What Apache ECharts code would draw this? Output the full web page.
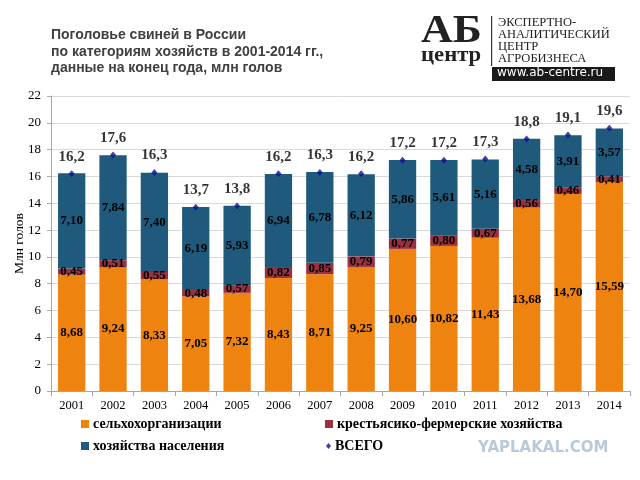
<!DOCTYPE html>
<html>
<head>
<meta charset="utf-8">
<script src="https://cdn.jsdelivr.net/npm/echarts@6/dist/echarts.min.js"></script>
<style>html,body{margin:0;padding:0;background:#fff;}#c{width:640px;height:480px;}</style>
</head>
<body>
<div id="c"></div>
<script>
var years = ['2001','2002','2003','2004','2005','2006','2007','2008','2009','2010','2011','2012','2013','2014'];
var agroOrgs = [8.68,9.24,8.33,7.05,7.32,8.43,8.71,9.25,10.60,10.82,11.43,13.68,14.70,15.59];
var farms = [0.45,0.51,0.55,0.48,0.57,0.82,0.85,0.79,0.77,0.80,0.67,0.56,0.46,0.41];
var households = [7.10,7.84,7.40,6.19,5.93,6.94,6.78,6.12,5.86,5.61,5.16,4.58,3.91,3.57];
var totals = [16.2,17.6,16.3,13.7,13.8,16.2,16.3,16.2,17.2,17.2,17.3,18.8,19.1,19.6];
var yTicks = {min:0, max:22, interval:2};
var names = ['сельхохорганизации','крестьясико-фермерские хозяйства','хозяйства населения','ВСЕГО'];

var serif = '"Liberation Serif","DejaVu Serif",serif';
var sans = '"Liberation Sans",Arial,sans-serif';
function fmt2(p){return p.value.toFixed(2).replace('.',',');}
function fmt1(p){var v = Array.isArray(p.value)?p.value[1]:p.value; return v.toFixed(1).replace('.',',');}
var inLabel = {show:true, position:'inside', formatter:fmt2, color:'#000', fontFamily:serif, fontWeight:'bold', fontSize:13};

var chart = echarts.init(document.getElementById('c'), null, {renderer:'canvas'});
function legendItem(name, left, top, icon, w, h){
  return {data:[{name:name, icon:icon}], left:left, top:top, itemWidth:w, itemHeight:h, itemGap:4,
    textStyle:{fontFamily:serif, fontWeight:'bold', fontSize:14, color:'#000', padding:[0,0,0,-1]}, selectedMode:false};
}
chart.setOption({
  animation:false,
  backgroundColor:'#fff',
  grid:{left:51, right:10, top:96, bottom:89, containLabel:false, outerBoundsMode:'none'},
  legend:[
    legendItem(names[0], 76, 412, 'rect', 8, 8),
    legendItem(names[1], 320, 412, 'rect', 8, 8),
    legendItem(names[2], 76, 434, 'rect', 8, 8),
    legendItem(names[3], 321, 434, 'diamond', 5, 6)
  ],
  xAxis:{type:'category', data:years, boundaryGap:true,
    axisLine:{lineStyle:{color:'#A6A6A6'}}, axisTick:{show:true, lineStyle:{color:'#A6A6A6'}},
    axisLabel:{color:'#000', fontFamily:serif, fontSize:12.5, margin:8}},
  yAxis:{type:'value', min:yTicks.min, max:yTicks.max, interval:yTicks.interval,
    name:'Млн голов', nameLocation:'middle', nameRotate:90, nameGap:25, nameMoveOverlap:false,
    nameTextStyle:{fontFamily:serif, fontSize:13.5, color:'#000'},
    axisLine:{show:true, lineStyle:{color:'#A6A6A6'}}, axisTick:{show:true, length:4, lineStyle:{color:'#A6A6A6'}},
    axisLabel:{color:'#000', fontFamily:serif, fontSize:13, margin:10},
    splitLine:{lineStyle:{color:'#D9D9D9'}}},
  series:[
    {name:names[0], type:'bar', stack:'s', data:agroOrgs, barWidth:'66%', itemStyle:{color:'#EE830F'}, label:inLabel},
    {name:names[1], type:'bar', stack:'s', data:farms, itemStyle:{color:'#9B3040'}, label:inLabel},
    {name:names[2], type:'bar', stack:'s', data:households, itemStyle:{color:'#1F5A7C'}, label:inLabel},
    {name:names[3], type:'scatter', data:totals, symbol:'diamond', symbolSize:[6,7], z:5,
      itemStyle:{color:'#0B108C'},
      label:{show:true, position:'top', distance:6, formatter:fmt1, color:'#000', fontFamily:serif, fontWeight:'bold', fontSize:15}}
  ],
  graphic:[
    {type:'text', left:51, top:27, style:{text:'Поголовье свиней в России\nпо категориям хозяйств в 2001-2014 гг.,\nданные на конец года, млн голов', font:'bold 14px '+sans, fill:'#404040', lineHeight:16.5}},
    {type:'text', x:421, y:12, scaleX:1.1, style:{text:'АБ', font:'bold 40px '+serif, fill:'#222', verticalAlign:'top'}},
    {type:'text', x:421, y:45, scaleX:1.08, style:{text:'центр', font:'bold 21px '+serif, fill:'#222', verticalAlign:'top'}},
    {type:'rect', shape:{x:491, y:16, width:1.2, height:50}, style:{fill:'#333'}},
    {type:'text', left:498, top:16, style:{text:'ЭКСПЕРТНО-\nАНАЛИТИЧЕСКИЙ\nЦЕНТР\nАГРОБИЗНЕСА', font:'12.5px '+serif, fill:'#222', lineHeight:12.2}},
    {type:'rect', shape:{x:492, y:67, width:123, height:14}, style:{fill:'#1a1a1a'}},
    {type:'text', left:497, top:67, style:{text:'www.ab-centre.ru', font:'12px "DejaVu Sans",sans-serif', fill:'#fff'}},
    {type:'text', left:478, top:441, style:{text:'YAPLAKAL.COM', font:'bold 15px "DejaVu Sans",sans-serif', fill:'#B8C9DA'}}
  ]
});
</script>
</body>
</html>
